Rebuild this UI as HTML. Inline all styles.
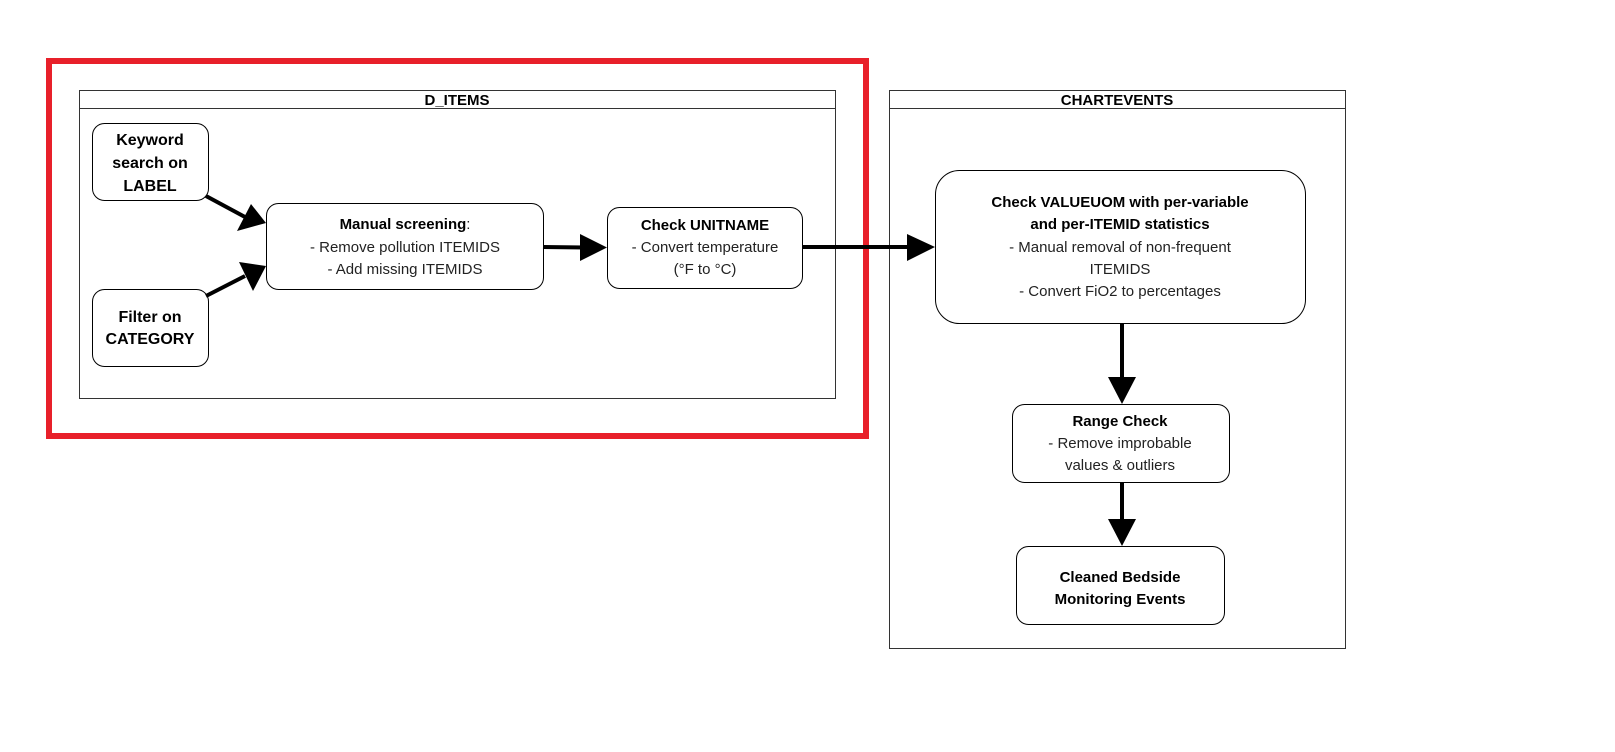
<!DOCTYPE html>
<html><head><style>
body{margin:0;background:#fff;}
svg text{font-family:"Liberation Sans",Arial,sans-serif;font-size:15px;text-anchor:middle;}
.b{font-weight:bold;fill:#000;}
.n{fill:#222;}
</style></head><body>
<svg width="1615" height="747" viewBox="0 0 1615 747" xmlns="http://www.w3.org/2000/svg">
<rect x="79.5" y="90.5" width="756" height="308" fill="none" stroke="#333" stroke-width="1"/>
<line x1="79.5" y1="108.5" x2="835.5" y2="108.5" stroke="#333"/>
<text x="457" y="105" class="b">D_ITEMS</text>
<rect x="889.5" y="90.5" width="456" height="558" fill="none" stroke="#333" stroke-width="1"/>
<line x1="889.5" y1="108.5" x2="1345.5" y2="108.5" stroke="#333"/>
<text x="1117" y="105" class="b">CHARTEVENTS</text>
<rect x="49" y="61" width="817" height="375" fill="none" stroke="#e8202a" stroke-width="6"/>
<g fill="#fff" stroke="#000" stroke-width="1">
<rect x="92.5" y="123.5" width="116" height="77" rx="12"/>
<rect x="92.5" y="289.5" width="116" height="77" rx="12"/>
<rect x="266.5" y="203.5" width="277" height="86" rx="12"/>
<rect x="607.5" y="207.5" width="195" height="81" rx="12"/>
<rect x="935.5" y="170.5" width="370" height="153" rx="24"/>
<rect x="1012.5" y="404.5" width="217" height="78" rx="12"/>
<rect x="1016.5" y="546.5" width="208" height="78" rx="12"/>
</g>
<g stroke="#000" stroke-width="4" fill="none">
<line x1="206" y1="196" x2="245" y2="217"/>
<line x1="206" y1="296" x2="245" y2="276"/>
<line x1="543" y1="247" x2="585" y2="247.5"/>
<line x1="802" y1="247" x2="912" y2="247"/>
<line x1="1122" y1="323" x2="1122" y2="380"/>
<line x1="1122" y1="482" x2="1122" y2="522"/>
</g>
<g fill="#000">
<polygon points="266,223 237,231 251,204"/>
<polygon points="266,266 253,291 239,262"/>
<polygon points="607,247.5 580,234 580,261"/>
<polygon points="935,247 907,234 907,261"/>
<polygon points="1122,404 1108,377 1136,377"/>
<polygon points="1122,546 1108,519 1136,519"/>
</g>
<text x="150" y="145" class="b" style="font-size:16px">Keyword</text>
<text x="150" y="168" class="b" style="font-size:16px">search on</text>
<text x="150" y="191" class="b" style="font-size:16px">LABEL</text>
<text x="150" y="322" class="b" style="font-size:16px">Filter on</text>
<text x="150" y="344" class="b" style="font-size:16px">CATEGORY</text>
<text x="405" y="229"><tspan class="b">Manual screening</tspan><tspan class="n">:</tspan></text>
<text x="405" y="252" class="n">- Remove pollution ITEMIDS</text>
<text x="405" y="274" class="n">- Add missing ITEMIDS</text>
<text x="705" y="230" class="b">Check UNITNAME</text>
<text x="705" y="252" class="n">- Convert temperature</text>
<text x="705" y="274" class="n">(°F to °C)</text>
<text x="1120" y="207" class="b">Check VALUEUOM with per-variable</text>
<text x="1120" y="229" class="b">and  per-ITEMID statistics</text>
<text x="1120" y="252" class="n">- Manual removal of non-frequent</text>
<text x="1120" y="274" class="n">ITEMIDS</text>
<text x="1120" y="296" class="n">- Convert FiO2 to percentages</text>
<text x="1120" y="426" class="b">Range Check</text>
<text x="1120" y="448" class="n">- Remove improbable</text>
<text x="1120" y="470" class="n">values &amp; outliers</text>
<text x="1120" y="582" class="b">Cleaned Bedside</text>
<text x="1120" y="604" class="b">Monitoring Events</text>
</svg>
</body></html>
